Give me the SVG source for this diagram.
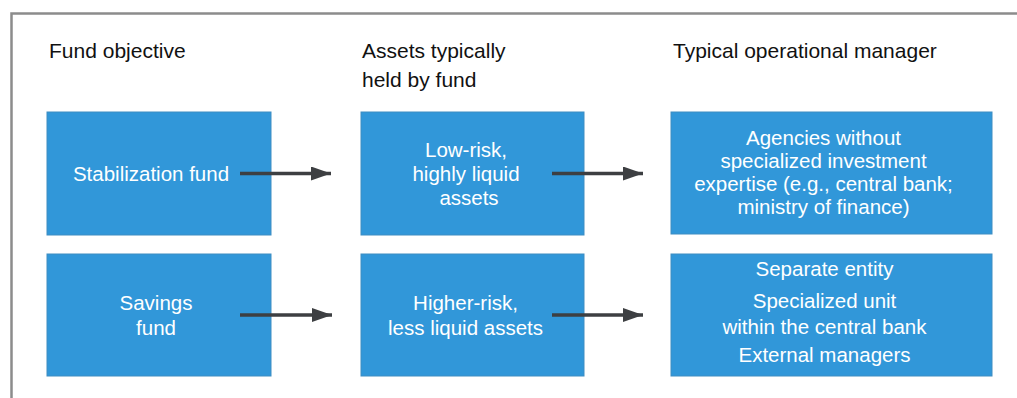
<svg xmlns="http://www.w3.org/2000/svg" width="1017" height="398" viewBox="0 0 1017 398">
<style>
.hdr{font-family:"Liberation Sans",Arial,sans-serif;font-size:21px;fill:#111}
.box{fill:#3197d9;stroke:#3f8dc2;stroke-width:1}
.lbl{font-family:"Liberation Sans",Arial,sans-serif;font-size:20.5px;fill:#fff;text-anchor:middle}
.conn{stroke:#3d3f42;stroke-width:3.5;fill:none}
</style>
<defs>
<marker id="ah" markerUnits="userSpaceOnUse" markerWidth="22" markerHeight="14" refX="20" refY="7" orient="auto">
<path d="M0,0 L20,7 L0,14 Z" fill="#3d3f42"/>
</marker>
</defs>
<rect x="0" y="0" width="1017" height="398" fill="#fff"/>
<g id="frame">
<path d="M11.5,398 V13.5 H1017" fill="none" stroke="#8c8c8c" stroke-width="2.5"/>
</g>
<g id="headers">
<text class="hdr" x="49" y="58">Fund objective</text>
<text class="hdr" x="362" y="58">Assets typically</text>
<text class="hdr" x="362" y="87">held by fund</text>
<text class="hdr" x="673" y="58">Typical operational manager</text>
</g>
<g id="n-stabilization">
<rect class="box" x="47" y="112" width="224" height="123"/>
<text class="lbl" x="151" y="181">Stabilization fund</text>
</g>
<g id="n-lowrisk">
<rect class="box" x="361" y="112" width="223" height="123"/>
<text class="lbl" x="466" y="157">Low-risk,</text>
<text class="lbl" x="466" y="181">highly liquid</text>
<text class="lbl" x="469" y="205">assets</text>
</g>
<g id="n-agencies">
<rect class="box" x="671" y="112" width="321" height="122"/>
<text class="lbl" x="823.5" y="145">Agencies without</text>
<text class="lbl" x="823.5" y="168">specialized investment</text>
<text class="lbl" x="823.5" y="191">expertise (e.g., central bank;</text>
<text class="lbl" x="823.5" y="214">ministry of finance)</text>
</g>
<g id="n-savings">
<rect class="box" x="47" y="254" width="224" height="122"/>
<text class="lbl" x="156" y="310">Savings</text>
<text class="lbl" x="156" y="335">fund</text>
</g>
<g id="n-highrisk">
<rect class="box" x="361" y="254" width="223" height="122"/>
<text class="lbl" x="465.5" y="310">Higher-risk,</text>
<text class="lbl" x="465.5" y="335">less liquid assets</text>
</g>
<g id="n-managers">
<rect class="box" x="671" y="254" width="321" height="122"/>
<text class="lbl" x="824.5" y="276">Separate entity</text>
<text class="lbl" x="824.5" y="308">Specialized unit</text>
<text class="lbl" x="824.5" y="334">within the central bank</text>
<text class="lbl" x="824.5" y="362">External managers</text>
</g>
<g id="connectors">
<line class="conn" x1="240" y1="173.5" x2="331" y2="173.5" marker-end="url(#ah)"/>
<line class="conn" x1="552" y1="173.5" x2="643" y2="173.5" marker-end="url(#ah)"/>
<line class="conn" x1="240" y1="315" x2="332" y2="315" marker-end="url(#ah)"/>
<line class="conn" x1="552" y1="315" x2="643" y2="315" marker-end="url(#ah)"/>
</g>
</svg>
